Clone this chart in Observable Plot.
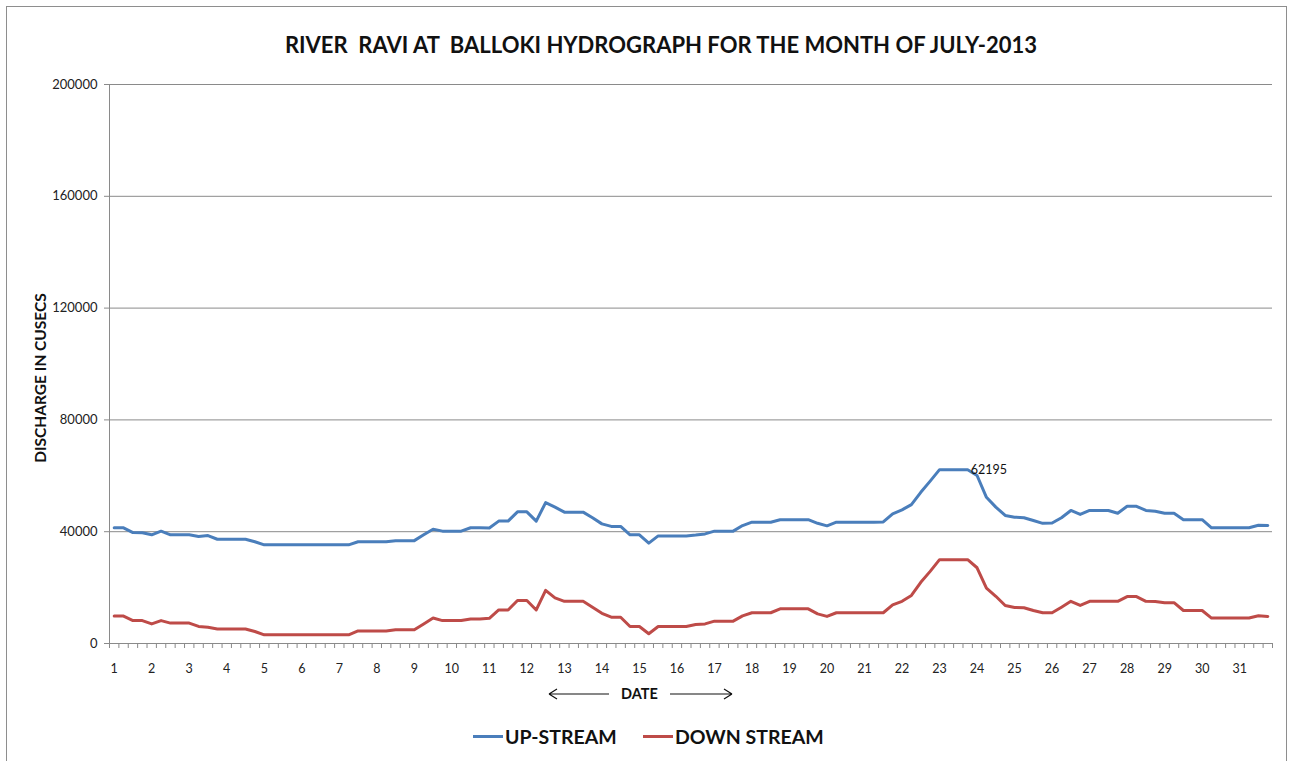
<!DOCTYPE html>
<html>
<head>
<meta charset="utf-8">
<script src="https://cdn.jsdelivr.net/npm/d3@7"></script>
<script src="https://cdn.jsdelivr.net/npm/@observablehq/plot@0.6"></script>
<style>
  html, body { margin: 0; padding: 0; background: #fff; overflow: hidden; }
  #chart { position: relative; width: 1295px; height: 761px; font-family: Lato, "Open Sans", sans-serif; color: #111; }
  #frame { position: absolute; left: 6px; top: 6px; width: 1281px; height: 800px; border: 1px solid #8e8e8e; box-sizing: border-box; }
  #plot { position: absolute; left: 0; top: 0; }
  #title { position: absolute; left: 0; top: 31px; width: 1322px; text-align: center; font-weight: bold; font-size: 22px; white-space: pre; }
  #ytitle { position: absolute; left: 40px; top: 378px; transform: translate(-50%, -50%) rotate(-90deg); font-weight: bold; font-size: 15.5px; white-space: nowrap; }
  #xtitle { position: absolute; left: 548px; top: 685px; width: 186px; height: 18px; }
  #xtitle span { position: absolute; left: 73px; top: 0; font-weight: bold; font-size: 14.5px; line-height: 18px; }
  .legend-item { position: absolute; top: 724px; height: 24px; display: flex; align-items: center; font-weight: bold; font-size: 19.5px; }
  .legend-item i { display: inline-block; width: 30px; height: 3px; margin-right: 2px; }
</style>
</head>
<body>
<div id="chart">
  <div id="frame"></div>
  <div id="plot"></div>
  <div id="title"></div>
  <div id="ytitle"></div>
  <div id="xtitle"></div>
</div>
<script>
// Discharge readings at Balloki, four per day through July 2013 (cusecs)
const upStream = [
  41400, 41400, 39700, 39600, 38900, 40200, 38900, 38900,
  38900, 38300, 38600, 37300, 37300, 37300, 37300, 36400,
  35300, 35300, 35300, 35300, 35300, 35300, 35300, 35300,
  35300, 35300, 36400, 36400, 36400, 36400, 36800, 36800,
  36800, 38900, 40900, 40200, 40200, 40200, 41400, 41400,
  41300, 43800, 43800, 47100, 47100, 43800, 50400, 48800,
  47000, 47000, 47000, 45000, 42800, 41900, 41900, 38900,
  38900, 35900, 38500, 38500, 38500, 38500, 38800, 39200,
  40200, 40200, 40200, 42200, 43400, 43400, 43400, 44300,
  44300, 44300, 44300, 43000, 42100, 43400, 43400, 43400,
  43400, 43400, 43500, 46400, 47800, 49700, 54100, 58100,
  62195, 62195, 62195, 62195, 60100, 52300, 48800, 45800,
  45200, 45000, 44000, 43000, 43100, 45000, 47600, 46200,
  47600, 47600, 47600, 46600, 49100, 49100, 47600, 47300,
  46600, 46600, 44300, 44300, 44300, 41400, 41400, 41400,
  41400, 41400, 42300, 42200
];
const downStream = [
  9800, 9800, 8200, 8200, 7000, 8200, 7300, 7300,
  7300, 6100, 5800, 5200, 5200, 5200, 5200, 4300,
  3100, 3100, 3100, 3100, 3100, 3100, 3100, 3100,
  3100, 3100, 4500, 4500, 4500, 4500, 4900, 4900,
  4900, 7000, 9100, 8200, 8200, 8200, 8800, 8800,
  9000, 12000, 12000, 15400, 15400, 12000, 19000, 16300,
  15100, 15100, 15100, 13000, 10800, 9400, 9400, 6100,
  6100, 3500, 6100, 6100, 6100, 6100, 6800, 7000,
  8000, 8000, 8000, 9900, 11000, 11000, 11000, 12400,
  12400, 12400, 12400, 10600, 9700, 11000, 11000, 11000,
  11000, 11000, 11000, 13800, 15100, 17200, 21900, 25800,
  30000, 30000, 30000, 30000, 27100, 19800, 16900, 13600,
  12900, 12800, 11800, 11000, 11000, 13000, 15100, 13600,
  15100, 15100, 15100, 15100, 16800, 16800, 15100, 15000,
  14600, 14600, 11800, 11800, 11800, 9100, 9100, 9100,
  9100, 9100, 9900, 9700
];
const readingsPerDay = 4;
const days = d3.range(1, 32);                 // tick labels 1..31
const seriesNames = ["UP-STREAM", "DOWN STREAM"];
const seriesColors = ["#4A7EBB", "#BE4B48"];
const yTicks = [0, 40000, 80000, 120000, 160000, 200000];
const peakLabel = 62195;

const titleText = "RIVER  RAVI AT  BALLOKI HYDROGRAPH FOR THE MONTH OF JULY-2013";
const yTitleText = "DISCHARGE IN CUSECS";
const xTitleText = "DATE";

// long-format rows for the line marks
const rows = [
  ...upStream.map((v, i) => ({i, v, series: seriesNames[0]})),
  ...downStream.map((v, i) => ({i, v, series: seriesNames[1]}))
];
// label the last reading at the flood peak
const peakIndex = upStream.lastIndexOf(peakLabel);
const peakRows = [{i: peakIndex, v: upStream[peakIndex], text: String(peakLabel)}];

const n = upStream.length;
const boundaries = d3.range(n + 1).map(k => k - 0.5);
const dayTicks = days.map((d, k) => k * readingsPerDay);

const gridColor = "#8a8a8a";

const plot = Plot.plot({
  width: 1295,
  height: 761,
  marginLeft: 109,
  marginRight: 23,
  marginTop: 84,
  marginBottom: 118,
  style: {fontFamily: "Lato, 'Open Sans', sans-serif", fontSize: "12px", color: "#222", background: "transparent"},
  x: {type: "linear", domain: [-0.5, n - 0.5]},
  y: {domain: [0, 200000]},
  color: {domain: seriesNames, range: seriesColors},
  marks: [
    Plot.gridY(yTicks, {stroke: gridColor, strokeOpacity: 1, strokeWidth: 1}),
    Plot.ruleX([-0.5], {stroke: gridColor, strokeWidth: 1}),
    Plot.axisY(yTicks, {tickSize: 5, tickPadding: 7, stroke: gridColor, tickFormat: d => String(d), label: null, fill: "#222", fontSize: 13}),
    // small ticks between readings along the date axis
    Plot.axisX(boundaries, {tickSize: 5, fill: "none", stroke: gridColor, label: null}),
    Plot.axisX(dayTicks, {tickSize: 0, tickPadding: 21, tickFormat: k => String(days[k / readingsPerDay]), label: null, fill: "#222", fontSize: 12.5}),
    Plot.line(rows, {x: "i", y: "v", z: "series", stroke: "series", strokeWidth: 3, strokeLinejoin: "round", strokeLinecap: "round"}),
    Plot.text(peakRows, {x: "i", y: "v", text: "text", textAnchor: "start", dx: 3, fill: "#111", fontSize: 12.5})
  ]
});
document.getElementById("plot").appendChild(plot);

document.getElementById("title").textContent = titleText;
document.getElementById("ytitle").textContent = yTitleText;

// "<-- DATE -->" axis caption
const xt = document.getElementById("xtitle");
xt.innerHTML = `<svg width="186" height="18" style="position:absolute;left:0;top:0">
  <g fill="none" stroke="#111" stroke-width="1.2">
    <path d="M1,9 H61 M1,9 l8,-5 M1,9 l8,5"/>
    <path d="M122,9 H184 M184,9 l-8,-5 M184,9 l-8,5"/>
  </g></svg><span>${xTitleText}</span>`;

// legend below the plot
const chart = document.getElementById("chart");
const legendLeft = [473, 643];
seriesNames.forEach((name, k) => {
  const item = document.createElement("div");
  item.className = "legend-item";
  item.style.left = legendLeft[k] + "px";
  item.innerHTML = `<i style="background:${seriesColors[k]}"></i><span>${name}</span>`;
  chart.appendChild(item);
});
</script>
</body>
</html>
